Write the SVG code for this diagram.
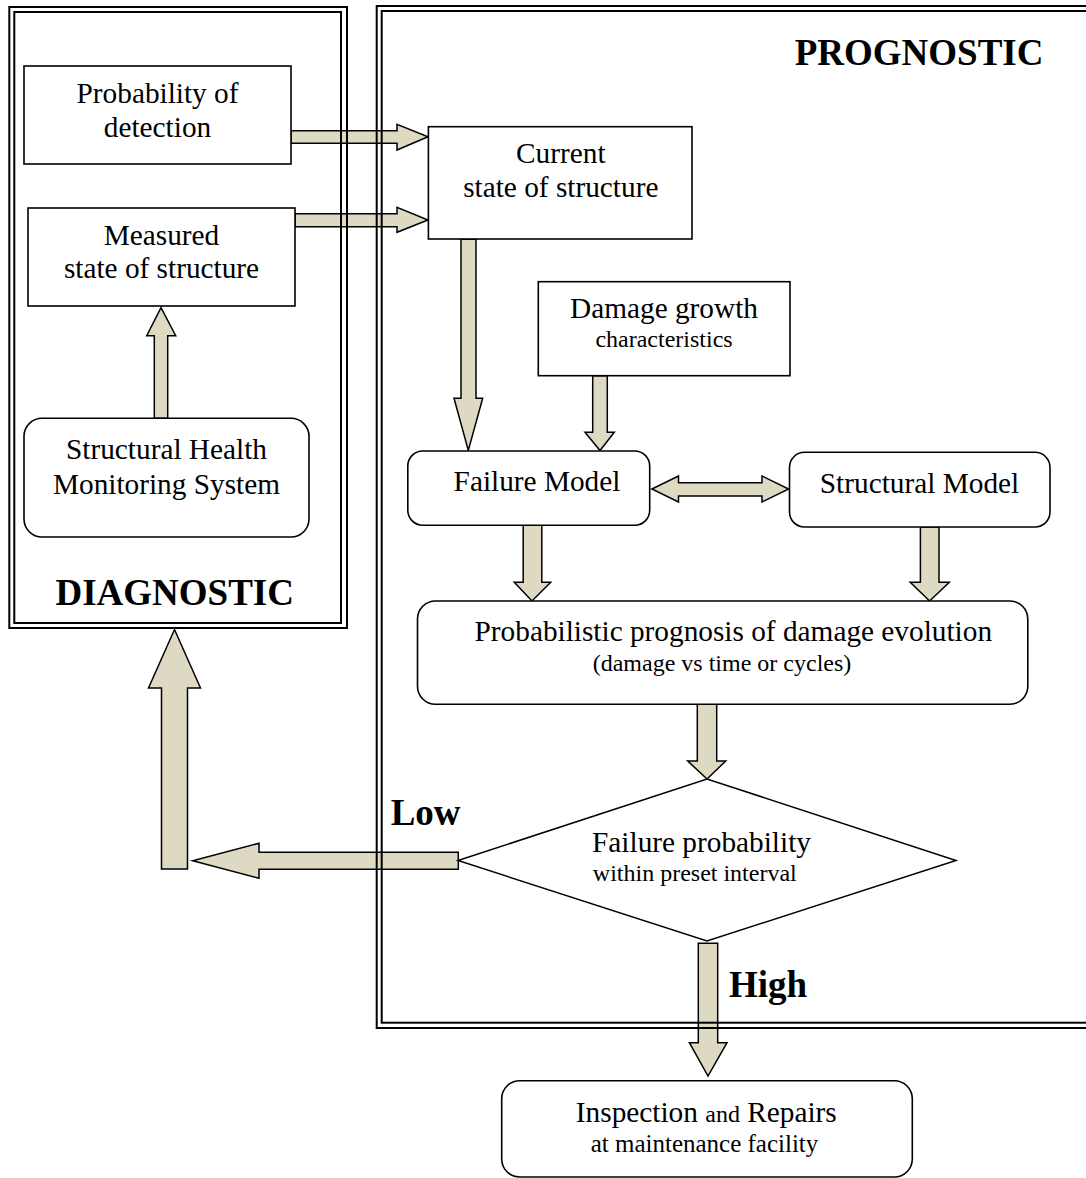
<svg xmlns="http://www.w3.org/2000/svg" width="1086" height="1178" viewBox="0 0 1086 1178">
<style>
.frame{fill:none;stroke:#000;stroke-width:2}
.box{fill:#fff;stroke:#000;stroke-width:1.6}
.arrow{fill:#DDD9C3;stroke:#000;stroke-width:1.5;stroke-linejoin:miter}
.diamond{fill:#fff;stroke:#000;stroke-width:1.5}
text{font-family:"Liberation Serif","Times New Roman",serif;fill:#000}
.t{font-size:29.3px;text-anchor:middle}
.s{font-size:24px;text-anchor:middle}
.b{font-size:37px;font-weight:bold}
</style>
<rect width="1086" height="1178" fill="#fff"/>

<g id="connectors">
  <!-- PoD -> Current -->
  <polygon class="arrow" points="291,130.7 397,130.7 397,124.3 428,136.7 397,150 397,143.3 291,143.3"/>
  <!-- Measured -> Current -->
  <polygon class="arrow" points="295,213.7 397,213.7 397,207.3 428,220 397,232.3 397,226.7 295,226.7"/>
  <!-- SHM -> Measured -->
  <polygon class="arrow" points="154.3,418.3 154.3,335.7 146.7,335.7 161,307.7 175.7,335.7 167.7,335.7 167.7,418.3"/>
  <!-- Current -> Failure Model -->
  <polygon class="arrow" points="461,239.3 476,239.3 476,398.3 482.7,398.3 468.3,450.5 454,398.3 461,398.3"/>
  <!-- Damage -> Failure Model -->
  <polygon class="arrow" points="592.7,375.7 607.3,375.7 607.3,432.3 614.3,432.3 600,450.5 585,432.3 592.7,432.3"/>
  <!-- Failure <-> Structural -->
  <polygon class="arrow" points="651.9,489 678.5,476 678.5,482.7 762,482.7 762,476 788.6,489 762,502 762,496 678.5,496 678.5,502"/>
  <!-- Failure -> Prognosis -->
  <polygon class="arrow" points="523.2,525.3 541.8,525.3 541.8,582.3 550.7,582.3 532,601 514.3,582.3 523.2,582.3"/>
  <!-- Structural -> Prognosis -->
  <polygon class="arrow" points="920.4,527 939,527 939,582.3 949.3,582.3 929.6,601 910.2,582.3 920.4,582.3"/>
  <!-- Prognosis -> Decision -->
  <polygon class="arrow" points="697.3,704.3 716.7,704.3 716.7,761 725.7,761 707,779 687.7,761 697.3,761"/>
  <!-- Low -->
  <polygon class="arrow" points="458.3,852.3 259,852.3 259,843.3 192.7,860.7 259,878.3 259,869.3 458.3,869.3"/>
  <!-- Up to Diagnostic -->
  <polygon class="arrow" points="161.5,869 161.5,688 148.5,688 174.5,629.5 200.5,688 187.5,688 187.5,869"/>
  <!-- High -->
  <polygon class="arrow" points="698.3,943.3 717.7,943.3 717.7,1042.7 727,1042.7 708,1076 689.4,1042.7 698.3,1042.7"/>
</g>

<g id="diagnostic-frame">
  <rect class="frame" x="9.3" y="7" width="337.7" height="621"/>
  <rect class="frame" x="14.3" y="12" width="326.7" height="611"/>
  <text class="b" x="174.7" y="605.3" text-anchor="middle">DIAGNOSTIC</text>
</g>

<g id="prognostic-frame">
  <rect class="frame" x="376.7" y="6" width="720" height="1022"/>
  <rect class="frame" x="381.7" y="11" width="710" height="1011.7"/>
  <text class="b" x="794.7" y="65">PROGNOSTIC</text>
</g>

<g id="probability-of-detection">
  <rect class="box" x="24" y="66" width="267" height="98"/>
  <text class="t" x="157.5" y="103.3">Probability of</text>
  <text class="t" x="157.5" y="137.3">detection</text>
</g>

<g id="measured-state">
  <rect class="box" x="28" y="208" width="267" height="98"/>
  <text class="t" x="161.5" y="245">Measured</text>
  <text class="t" x="161.5" y="278.3">state of structure</text>
</g>

<g id="shm-system">
  <rect class="box" x="24" y="418.3" width="285" height="118.7" rx="18" ry="18"/>
  <text class="t" x="166.5" y="459.3">Structural Health</text>
  <text class="t" x="166.5" y="494">Monitoring System</text>
</g>

<g id="current-state">
  <rect class="box" x="428.4" y="126.7" width="263.6" height="112.3"/>
  <text class="t" x="560.8" y="163.3">Current</text>
  <text class="t" x="560.8" y="196.7">state of structure</text>
</g>

<g id="damage-growth">
  <rect class="box" x="538.3" y="281.7" width="251.7" height="94"/>
  <text class="t" x="664" y="318.3">Damage growth</text>
  <text class="s" x="664" y="347.3">characteristics</text>
</g>

<g id="failure-model">
  <rect class="box" x="407.8" y="451" width="241.9" height="74.3" rx="15" ry="15"/>
  <text class="t" x="537" y="491">Failure Model</text>
</g>

<g id="structural-model">
  <rect class="box" x="789.5" y="452.3" width="260.5" height="74.7" rx="15" ry="15"/>
  <text class="t" x="919.5" y="493.3">Structural Model</text>
</g>

<g id="prognosis">
  <rect class="box" x="417.5" y="601" width="610.3" height="103.3" rx="18" ry="18"/>
  <text class="t" x="733.3" y="640.7">Probabilistic prognosis of damage evolution</text>
  <text class="s" x="722" y="670.7">(damage vs time or cycles)</text>
</g>

<g id="decision">
  <polygon class="diamond" points="458,860.5 707,779 956,860.5 707,941"/>
  <text class="t" x="701.5" y="851.7">Failure probability</text>
  <text class="s" x="694.8" y="881">within preset interval</text>
</g>

<g id="labels">
  <text class="b" x="390.7" y="825">Low</text>
  <text class="b" x="729" y="996.7">High</text>
</g>

<g id="inspection">
  <rect class="box" x="501.7" y="1080.7" width="410.6" height="96.3" rx="18" ry="18"/>
  <text class="t" x="706.3" y="1122.3">Inspection <tspan style="font-size:24px">and</tspan> Repairs</text>
  <text class="s" x="704.5" y="1151.7" style="font-size:25px">at maintenance facility</text>
</g>
</svg>
